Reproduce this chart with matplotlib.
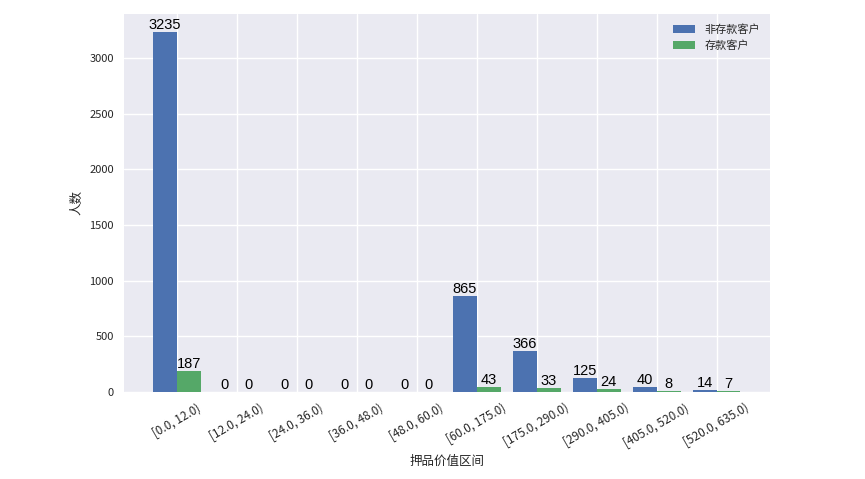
import numpy as np
import matplotlib.pyplot as plt

bins = ['[0.0, 12.0)', '[12.0, 24.0)', '[24.0, 36.0)', '[36.0, 48.0)', '[48.0, 60.0)',
        '[60.0, 175.0)', '[175.0, 290.0)', '[290.0, 405.0)', '[405.0, 520.0)', '[520.0, 635.0)']
non_deposit = [3235, 0, 0, 0, 0, 865, 366, 125, 40, 14]
deposit = [187, 0, 0, 0, 0, 43, 33, 24, 8, 7]

plt.style.use('seaborn-v0_8')
plt.rcParams['font.family'] = ['Noto Sans CJK SC', 'DejaVu Sans']
plt.rcParams['axes.unicode_minus'] = False

fig = plt.figure(figsize=(8.65, 4.79), dpi=100)
ax = fig.add_axes([0.143, 0.182, 0.747, 0.789])

x = np.arange(len(bins))
w = 0.4
b1 = ax.bar(x - w / 2, non_deposit, width=w, color='#4C72B0', label='非存款客户')
b2 = ax.bar(x + w / 2, deposit, width=w, color='#55A868', label='存款客户')

for bars in (b1, b2):
    for r in bars:
        h = r.get_height()
        ax.text(r.get_x() + r.get_width() / 2, h, '%d' % h, ha='center', va='bottom',
                fontsize=10.5, family='Liberation Sans', color='black')

ax.set_xticks(x)
ax.set_xticklabels(bins, rotation=30, fontsize=8.5)
ax.tick_params(axis='y', labelsize=8)
ax.set_xlabel('押品价值区间', fontsize=9)
ax.set_ylabel('人数', fontsize=9)
ax.legend(loc='upper right', fontsize=8, frameon=False)

plt.savefig('out.png', dpi=100)
